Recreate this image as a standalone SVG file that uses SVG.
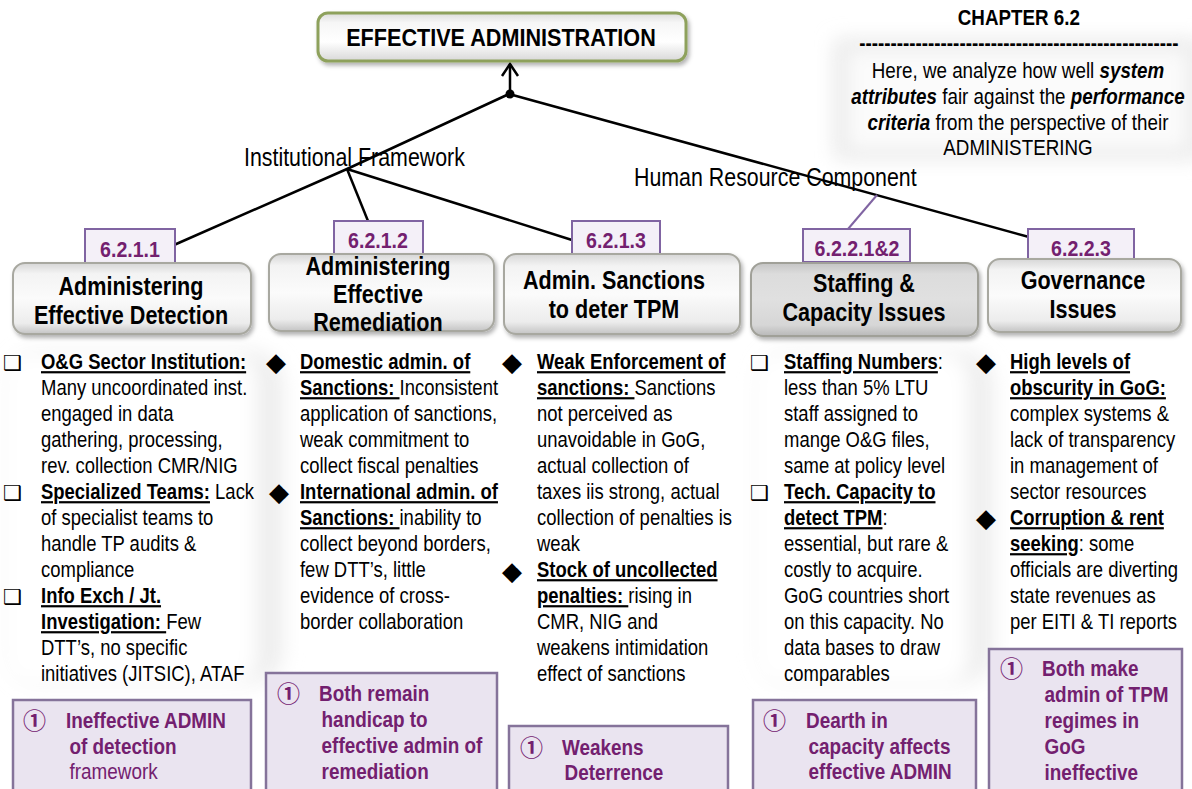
<svg xmlns="http://www.w3.org/2000/svg" width="1192" height="789" viewBox="0 0 1192 789">
<defs>
<style>
.t{font-family:"Liberation Sans Narrow","Liberation Sans",Arial,sans-serif}
.body{font-size:22px;fill:#000}
.b{font-weight:bold}
.i{font-style:italic}
.u{text-decoration:underline}
.hd{font-size:26px;font-weight:bold;text-anchor:middle;fill:#000}
.num{font-size:22px;font-weight:bold;fill:#73206F;text-anchor:middle}
.pt{font-size:22px;font-weight:bold;fill:#73206F}
.pn{font-size:22px;font-weight:normal;fill:#73206F}
.sym{font-family:"DejaVu Sans","Noto Sans CJK SC",sans-serif}
.sq{font-size:21px;fill:#000}
.dm{font-size:26px;fill:#000}
.circ{font-family:"Noto Sans CJK SC","DejaVu Sans",sans-serif;font-size:23px;font-weight:bold;fill:#73206F}
.lbl{font-size:25px;fill:#000}
.conn{stroke:#000;stroke-width:2.5;fill:none}
.numbox{fill:#F4F0F8;stroke:#8064A2;stroke-width:2}
.box{fill:url(#gGrey);stroke:#a8a8a0;stroke-width:2;filter:url(#sh)}
.boxd{fill:url(#gDark);stroke:#a0a098;stroke-width:2;filter:url(#sh)}
.pbox{fill:#EAE4F0;stroke:#85739A;stroke-width:2.5}
</style>
<linearGradient id="gGrey" x1="0" y1="0" x2="0" y2="1">
<stop offset="0" stop-color="#d6d6d6"/>
<stop offset="0.15" stop-color="#f3f3f3"/>
<stop offset="0.5" stop-color="#fbfbfb"/>
<stop offset="0.85" stop-color="#ececec"/>
<stop offset="1" stop-color="#c4c4c4"/>
</linearGradient>
<linearGradient id="gDark" x1="0" y1="0" x2="0" y2="1">
<stop offset="0" stop-color="#c4c4c4"/>
<stop offset="0.15" stop-color="#dcdcdc"/>
<stop offset="0.5" stop-color="#e0e0e0"/>
<stop offset="0.85" stop-color="#d6d6d6"/>
<stop offset="1" stop-color="#b8b8b8"/>
</linearGradient>
<linearGradient id="gTop" x1="0" y1="0" x2="0" y2="1">
<stop offset="0" stop-color="#dcdcdc"/>
<stop offset="0.2" stop-color="#f6f6f6"/>
<stop offset="0.6" stop-color="#ffffff"/>
<stop offset="1" stop-color="#d8d8d8"/>
</linearGradient>
<filter id="sh" x="-10%" y="-20%" width="125%" height="150%">
<feDropShadow dx="2" dy="3" stdDeviation="2" flood-color="#000" flood-opacity="0.3"/>
</filter>
<filter id="glow" x="-20%" y="-30%" width="140%" height="160%">
<feGaussianBlur stdDeviation="10"/>
</filter>
</defs>
<rect width="1192" height="789" fill="#ffffff"/>

<!-- soft background glows -->
<rect x="835" y="40" width="365" height="118" fill="#e6e6e6" filter="url(#glow)"/>
<rect x="845" y="48" width="345" height="104" fill="#fbfbfb" filter="url(#glow)"/>
<rect x="10" y="352" width="272" height="330" rx="30" fill="#ececec" filter="url(#glow)"/>
<rect x="0" y="350" width="258" height="338" rx="30" fill="#ffffff" filter="url(#glow)"/>
<rect x="760" y="352" width="232" height="330" rx="30" fill="#ececec" filter="url(#glow)"/>
<rect x="750" y="350" width="220" height="338" rx="30" fill="#ffffff" filter="url(#glow)"/>

<!-- connectors -->
<g id="connectors">
<line class="conn" x1="510" y1="94" x2="510" y2="64"/>
<polyline class="conn" points="502,76 510,64 518,76"/>
<polyline class="conn" points="509,94 347,169 174,245"/>
<line class="conn" x1="347" y1="169" x2="368" y2="221"/>
<line class="conn" x1="347" y1="169" x2="572" y2="240"/>
<line class="conn" x1="509" y1="94" x2="1029" y2="237"/>
<line x1="877" y1="195" x2="848" y2="229" stroke="#8064A2" stroke-width="2"/>
<circle cx="510" cy="94" r="4.5" fill="#000"/>
</g>

<!-- top node -->
<g id="n-top">
<rect x="318" y="13" width="368" height="48" rx="10" fill="url(#gTop)" stroke="#8ea15c" stroke-width="3" filter="url(#sh)"/>
<text class="t b" x="501" y="46" font-size="24" text-anchor="middle" transform="translate(501 0) scale(0.9 1) translate(-501 0)">EFFECTIVE ADMINISTRATION</text>
</g>

<!-- chapter note -->
<g id="n-chapter" class="t" font-size="22" transform="translate(1018 0) scale(0.855 1) translate(-1018 0)">
<text class="b" x="1019" y="25" text-anchor="middle">CHAPTER 6.2</text>
<text class="b" x="1019" y="50" text-anchor="middle">---------------------------------------------------</text>
<text x="1018" y="78" text-anchor="middle">Here, we analyze how well <tspan class="b i">system</tspan></text>
<text x="1018" y="104" text-anchor="middle"><tspan class="b i">attributes</tspan> fair against the <tspan class="b i">performance</tspan></text>
<text x="1018" y="130" text-anchor="middle"><tspan class="b i">criteria</tspan> from the perspective of their</text>
<text x="1018" y="155" text-anchor="middle">ADMINISTERING</text>
</g>

<!-- branch labels -->
<g id="n-if"><text class="t lbl" x="244" y="166" transform="translate(244 0) scale(0.855 1) translate(-244 0)">Institutional Framework</text></g>
<g id="n-hr"><text class="t lbl" x="634" y="186" transform="translate(634 0) scale(0.855 1) translate(-634 0)">Human Resource Component</text></g>

<!-- number boxes -->
<g id="n-6211"><rect class="numbox" x="85" y="229" width="90" height="34"/><text class="t num" x="130" y="257" transform="translate(130 0) scale(0.89 1) translate(-130 0)">6.2.1.1</text></g>
<g id="n-6212"><rect class="numbox" x="334" y="221" width="89" height="33"/><text class="t num" x="378" y="248" transform="translate(378 0) scale(0.89 1) translate(-378 0)">6.2.1.2</text></g>
<g id="n-6213"><rect class="numbox" x="572" y="221" width="88" height="33"/><text class="t num" x="616" y="248" transform="translate(616 0) scale(0.89 1) translate(-616 0)">6.2.1.3</text></g>
<g id="n-62212"><rect class="numbox" x="803" y="229" width="107" height="33"/><text class="t num" x="857" y="256" transform="translate(857 0) scale(0.89 1) translate(-857 0)">6.2.2.1&amp;2</text></g>
<g id="n-6223"><rect class="numbox" x="1028" y="229" width="106" height="33"/><text class="t num" x="1081" y="256" transform="translate(1081 0) scale(0.89 1) translate(-1081 0)">6.2.2.3</text></g>

<!-- header boxes -->
<g id="n-detect">
<rect class="box" x="13" y="263" width="238" height="71" rx="12"/>
<g transform="translate(131 0) scale(0.83 1) translate(-131 0)">
<text class="t hd" x="131" y="295">Administering</text>
<text class="t hd" x="131" y="324">Effective Detection</text>
</g>
</g>
<g id="n-remed">
<rect class="box" x="269" y="254" width="225" height="77" rx="12"/>
<g transform="translate(378 0) scale(0.83 1) translate(-378 0)">
<text class="t hd" x="378" y="275">Administering</text>
<text class="t hd" x="378" y="303">Effective</text>
<text class="t hd" x="378" y="331">Remediation</text>
</g>
</g>
<g id="n-sanct">
<rect class="box" x="504" y="254" width="236" height="80" rx="12"/>
<g transform="translate(614 0) scale(0.83 1) translate(-614 0)">
<text class="t hd" x="614" y="289">Admin. Sanctions</text>
<text class="t hd" x="614" y="318">to deter TPM</text>
</g>
</g>
<g id="n-staff">
<rect class="boxd" x="751" y="263" width="227" height="73" rx="12"/>
<g transform="translate(864 0) scale(0.83 1) translate(-864 0)">
<text class="t hd" x="864" y="292">Staffing &amp;</text>
<text class="t hd" x="864" y="321">Capacity Issues</text>
</g>
</g>
<g id="n-gov">
<rect class="box" x="988" y="259" width="193" height="73" rx="12"/>
<g transform="translate(1083 0) scale(0.83 1) translate(-1083 0)">
<text class="t hd" x="1083" y="289">Governance</text>
<text class="t hd" x="1083" y="318">Issues</text>
</g>
</g>

<!-- column 1 -->
<g id="c-detect">
<text class="sym sq" x="3" y="370">❑</text>
<text class="sym sq" x="3" y="500">❑</text>
<text class="sym sq" x="3" y="604">❑</text>
<g class="t body" transform="translate(41 0) scale(0.84 1) translate(-41 0)">
<text x="41" y="369"><tspan class="b u">O&amp;G Sector Institution:</tspan></text>
<text x="41" y="395">Many uncoordinated inst.</text>
<text x="41" y="421">engaged in data</text>
<text x="41" y="447">gathering, processing,</text>
<text x="41" y="473">rev. collection CMR/NIG</text>
<text x="41" y="499"><tspan class="b u">Specialized Teams:</tspan> Lack</text>
<text x="41" y="525">of specialist teams to</text>
<text x="41" y="551">handle TP audits &amp;</text>
<text x="41" y="577">compliance</text>
<text x="41" y="603"><tspan class="b u">Info Exch / Jt.</tspan></text>
<text x="41" y="629"><tspan class="b u">Investigation: </tspan>Few</text>
<text x="41" y="655">DTT’s, no specific</text>
<text x="41" y="681">initiatives (JITSIC), ATAF</text>
</g>
</g>

<!-- column 2 -->
<g id="c-remed">
<text class="sym dm" x="266" y="371">◆</text>
<text class="sym dm" x="269" y="501">◆</text>
<g class="t body" transform="translate(300 0) scale(0.84 1) translate(-300 0)">
<text x="300" y="369"><tspan class="b u">Domestic admin. of</tspan></text>
<text x="300" y="395"><tspan class="b u">Sanctions: </tspan>Inconsistent</text>
<text x="300" y="421">application of sanctions,</text>
<text x="300" y="447">weak commitment to</text>
<text x="300" y="473">collect fiscal penalties</text>
<text x="300" y="499"><tspan class="b u">International admin. of</tspan></text>
<text x="300" y="525"><tspan class="b u">Sanctions: </tspan>inability to</text>
<text x="300" y="551">collect beyond borders,</text>
<text x="300" y="577">few DTT’s, little</text>
<text x="300" y="603">evidence of cross-</text>
<text x="300" y="629">border collaboration</text>
</g>
</g>

<!-- column 3 -->
<g id="c-sanct">
<text class="sym dm" x="502" y="371">◆</text>
<text class="sym dm" x="502" y="580">◆</text>
<g class="t body" transform="translate(537 0) scale(0.84 1) translate(-537 0)">
<text x="537" y="369"><tspan class="b u">Weak Enforcement of</tspan></text>
<text x="537" y="395"><tspan class="b u">sanctions: </tspan>Sanctions</text>
<text x="537" y="421">not perceived as</text>
<text x="537" y="447">unavoidable in GoG,</text>
<text x="537" y="473">actual collection of</text>
<text x="537" y="499">taxes iis strong, actual</text>
<text x="537" y="525">collection of penalties is</text>
<text x="537" y="551">weak</text>
<text x="537" y="577"><tspan class="b u">Stock of uncollected</tspan></text>
<text x="537" y="603"><tspan class="b u">penalties: </tspan>rising in</text>
<text x="537" y="629">CMR, NIG and</text>
<text x="537" y="655">weakens intimidation</text>
<text x="537" y="681">effect of sanctions</text>
</g>
</g>

<!-- column 4 -->
<g id="c-staff">
<text class="sym sq" x="750" y="370">❑</text>
<text class="sym sq" x="750" y="500">❑</text>
<g class="t body" transform="translate(784 0) scale(0.84 1) translate(-784 0)">
<text x="784" y="369"><tspan class="b u">Staffing Numbers</tspan>:</text>
<text x="784" y="395">less than 5% LTU</text>
<text x="784" y="421">staff assigned to</text>
<text x="784" y="447">mange O&amp;G files,</text>
<text x="784" y="473">same at policy level</text>
<text x="784" y="499"><tspan class="b u">Tech. Capacity to</tspan></text>
<text x="784" y="525"><tspan class="b u">detect TPM</tspan>:</text>
<text x="784" y="551">essential, but rare &amp;</text>
<text x="784" y="577">costly to acquire.</text>
<text x="784" y="603">GoG countries short</text>
<text x="784" y="629">on this capacity. No</text>
<text x="784" y="655">data bases to draw</text>
<text x="784" y="681">comparables</text>
</g>
</g>

<!-- column 5 -->
<g id="c-gov">
<text class="sym dm" x="976" y="371">◆</text>
<text class="sym dm" x="976" y="527">◆</text>
<g class="t body" transform="translate(1010 0) scale(0.84 1) translate(-1010 0)">
<text x="1010" y="369"><tspan class="b u">High levels of</tspan></text>
<text x="1010" y="395"><tspan class="b u">obscurity in GoG:</tspan></text>
<text x="1010" y="421">complex systems &amp;</text>
<text x="1010" y="447">lack of transparency</text>
<text x="1010" y="473">in management of</text>
<text x="1010" y="499">sector resources</text>
<text x="1010" y="525"><tspan class="b u">Corruption &amp; rent</tspan></text>
<text x="1010" y="551"><tspan class="b u">seeking</tspan>: some</text>
<text x="1010" y="577">officials are diverting</text>
<text x="1010" y="603">state revenues as</text>
<text x="1010" y="629">per EITI &amp; TI reports</text>
</g>
</g>

<!-- conclusion boxes -->
<g id="p-detect">
<rect class="pbox" x="13" y="700" width="238" height="100"/>
<text class="circ" x="23" y="729">①</text>
<g transform="translate(66 0) scale(0.86 1) translate(-66 0)">
<text class="t pt" x="66" y="728">Ineffective ADMIN</text>
<text class="t pt" x="70" y="754">of detection</text>
<text class="t pn" x="70" y="779">framework</text>
</g>
</g>
<g id="p-remed">
<rect class="pbox" x="266" y="673" width="231" height="127"/>
<text class="circ" x="277" y="702">①</text>
<g transform="translate(319 0) scale(0.86 1) translate(-319 0)">
<text class="t pt" x="319" y="701">Both remain</text>
<text class="t pt" x="322" y="727">handicap to</text>
<text class="t pt" x="322" y="753">effective admin of</text>
<text class="t pt" x="322" y="779">remediation</text>
</g>
</g>
<g id="p-sanct">
<rect class="pbox" x="509" y="726" width="219" height="74"/>
<text class="circ" x="520" y="756">①</text>
<g transform="translate(562 0) scale(0.86 1) translate(-562 0)">
<text class="t pt" x="562" y="755">Weakens</text>
<text class="t pt" x="565" y="780">Deterrence</text>
</g>
</g>
<g id="p-staff">
<rect class="pbox" x="753" y="700" width="223" height="100"/>
<text class="circ" x="763" y="729">①</text>
<g transform="translate(806 0) scale(0.86 1) translate(-806 0)">
<text class="t pt" x="806" y="728">Dearth in</text>
<text class="t pt" x="809" y="754">capacity affects</text>
<text class="t pt" x="809" y="779">effective ADMIN</text>
</g>
</g>
<g id="p-gov">
<rect class="pbox" x="989" y="649" width="193" height="151"/>
<text class="circ" x="1000" y="677">①</text>
<g transform="translate(1042 0) scale(0.86 1) translate(-1042 0)">
<text class="t pt" x="1042" y="676">Both make</text>
<text class="t pt" x="1045" y="702">admin of TPM</text>
<text class="t pt" x="1045" y="728">regimes in</text>
<text class="t pt" x="1045" y="754">GoG</text>
<text class="t pt" x="1045" y="780">ineffective</text>
</g>
</g>
</svg>
